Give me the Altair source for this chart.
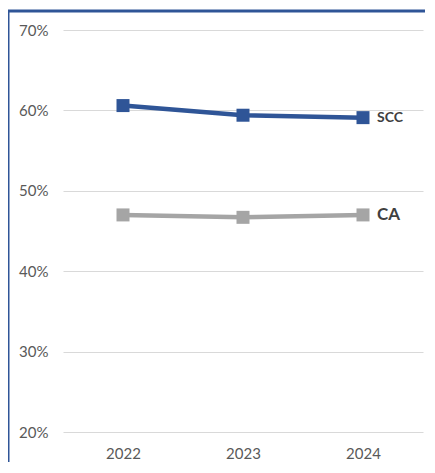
import altair as alt
import pandas as pd

years = ["2022", "2023", "2024"]
scc = [0.606, 0.594, 0.591]
ca = [0.470, 0.467, 0.470]
series_names = ["SCC", "CA"]

rows = []
for name, vals in zip(series_names, [scc, ca]):
    for y, v in zip(years, vals):
        rows.append({"year": y, "value": v, "series": name})
df = pd.DataFrame(rows)

W, H = 360, 402
FONT = "Lato"

color_scale = alt.Scale(domain=series_names, range=["#2F5597", "#A5A5A5"])

x_enc = alt.X("year:O", title=None, scale=alt.Scale(paddingOuter=0.5, paddingInner=0),
              axis=alt.Axis(labelAngle=0, ticks=False, domain=False, labelPadding=14,
                            labelFontSize=15, labelColor="#595959", labelFont=FONT, grid=False))
y_enc = alt.Y("value:Q", title=None,
              scale=alt.Scale(domain=[0.2, 0.7], nice=False, zero=False),
              axis=alt.Axis(format=".0%", values=[0.2, 0.3, 0.4, 0.5, 0.6, 0.7],
                            ticks=False, domain=False, labelPadding=15,
                            labelFontSize=15, labelColor="#595959", labelFont=FONT,
                            gridColor="#D9D9D9", gridWidth=1))

base = alt.Chart(df)

lines = base.mark_line(strokeWidth=4.5).encode(
    x=x_enc, y=y_enc,
    color=alt.Color("series:N", scale=color_scale, legend=None),
    detail="series:N",
)
points = base.mark_point(shape="square", filled=True, size=169, opacity=1).encode(
    x=x_enc, y=y_enc,
    color=alt.Color("series:N", scale=color_scale, legend=None),
)

lbl_scc = base.transform_filter(
    (alt.datum.year == years[-1]) & (alt.datum.series == "SCC")
).mark_text(align="left", baseline="middle", dx=14, fontSize=14, fontWeight="bold",
            font=FONT, color="#404040").encode(x="year:O", y="value:Q", text="series:N")
lbl_ca = base.transform_filter(
    (alt.datum.year == years[-1]) & (alt.datum.series == "CA")
).mark_text(align="left", baseline="middle", dx=14, fontSize=17, fontWeight="bold",
            font=FONT, color="#404040").encode(x="year:O", y="value:Q", text="series:N")

frame_left = alt.Chart(pd.DataFrame({"k": [0]})).mark_rule(color="#2F5597", strokeWidth=3).encode(
    x=alt.value(-55), y=alt.value(-19), y2=alt.value(H + 60))
frame_top = alt.Chart(pd.DataFrame({"k": [0]})).mark_rule(color="#2F5597", strokeWidth=3).encode(
    x=alt.value(-56.5), x2=alt.value(W + 40), y=alt.value(-19))

chart = alt.layer(lines, points, lbl_scc, lbl_ca, frame_left, frame_top).properties(
    width=W, height=H,
    autosize=alt.AutoSizeParams(type="none"),
    padding={"left": 55, "top": 22, "right": 2, "bottom": 30},
    background="white",
).configure_view(strokeWidth=0, stroke="transparent")

chart.save("out.html", embed_options={"renderer": "svg", "actions": False})
